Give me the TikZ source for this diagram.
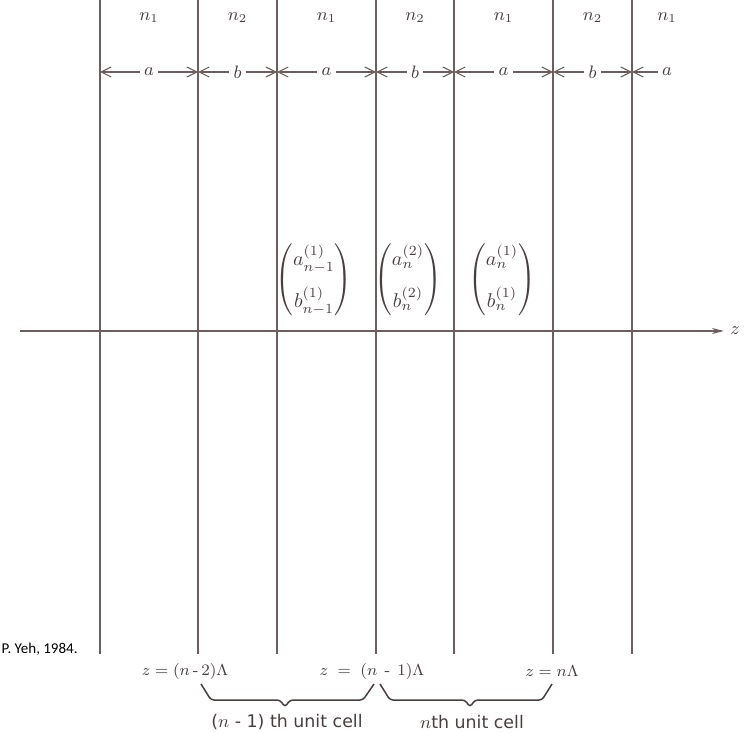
\documentclass[tikz,border=0pt]{standalone}
\usepackage{amsmath}
\usepackage{fontspec}
\newfontfamily\cellfont{DejaVu Sans}
\newfontfamily\notefont{Carlito}
\usetikzlibrary{arrows.meta,positioning,calc}
\definecolor{layerline}{RGB}{108,94,94}
\definecolor{inkgray}{RGB}{72,62,62}
\newcommand{\shortdash}{\text{-}}

\begin{document}
\begin{tikzpicture}[x=0.5pt,y=-0.5pt,font=\fontsize{9}{11}\selectfont,
  every node/.style={text=inkgray},
  bound/.style={layerline,line width=0.75pt},
  dim/.style={layerline,line width=0.55pt,-{Straight Barb[length=5pt,width=5pt]}},
  brace/.style={inkgray,line width=0.75pt,rounded corners=1.5pt},
  planelabel/.style={font=\fontsize{8}{10}\selectfont}]
  \useasboundingbox (0,0) rectangle (744,733);
  % layer boundaries
  \foreach \x [count=\i] in {100,198,277,376,454,553,632}{
    \coordinate (top\i) at (\x,0);
    \coordinate (bot\i) at (\x,654);
    \draw[bound] (top\i) -- (bot\i);
  }
  % indices and thicknesses
  \foreach \l/\r/\m/\t [count=\k] in {1/2/1/a,2/3/2/b,3/4/1/a,4/5/2/b,5/6/1/a,6/7/2/b}{
    \node (idx\k) at ($(top\l)!0.5!(top\r)+(0,18)$) {$n_{\m}$};
    \node[inner sep=2pt] (len\k) at ($(top\l)!0.5!(top\r)+(0,72)$) {$\t$};
    \draw[dim] (len\k.west) -- (top\l |- len\k);
    \draw[dim] (len\k.east) -- (top\r |- len\k);
  }
  \node (idx7) at ($(top7)+(35,18)$) {$n_{1}$};
  \node[inner sep=2pt] (len7) at ($(top7)+(35,72)$) {$a$};
  \draw[dim] (len7.west) -- (top7 |- len7);
  % z axis
  \coordinate (zstart) at (20,331);
  \node[inner sep=3pt] (zlab) at (735,331) {$z$};
  \draw[bound,-{Stealth[length=6pt,width=3pt]}] (zstart) -- (zlab.west);
  % field amplitudes
  \begin{scope}[every node/.style={text=inkgray,font=\fontsize{10}{12}\selectfont}]
    \node (ampA) at (314,280) {$\begin{pmatrix} a^{(1)}_{n-1}\\[7pt] b^{(1)}_{n-1}\end{pmatrix}$};
    \node (ampB) at (408,280) {$\begin{pmatrix} a^{(2)}_{n}\\[7pt] b^{(2)}_{n}\end{pmatrix}$};
    \node (ampC) at (502,280) {$\begin{pmatrix} a^{(1)}_{n}\\[7pt] b^{(1)}_{n}\end{pmatrix}$};
  \end{scope}
  % cell boundaries and braces
  \node[planelabel] (posA) at (185,671) {$z\;{=}\;(n\,\shortdash\,2)\Lambda$};
  \node[planelabel] (posB) at (372,671) {$z\;=\;(n\hspace{0.45em}\shortdash\hspace{0.45em}1)\Lambda$};
  \node[planelabel] (posC) at (552,671) {$z = n\Lambda$};
  \draw[brace] (201,684) -- (211,700) -- (280,700) -- (285,707) -- (290,700) -- (363,700) -- (374,684);
  \draw[brace] (380,684) -- (390,700) -- (465,700) -- (470,707) -- (475,700) -- (542,700) -- (552,684);
  \node[font=\cellfont\fontsize{8.7}{10}\selectfont] (cellA) at (287,722) {($n$ - 1) th unit cell};
  \node[font=\cellfont\fontsize{8.7}{10}\selectfont] (cellB) at (472,722) {$n$th unit cell};
  % credit line, cut at the left edge
  \node[anchor=east,inner sep=0pt,text=black,font=\notefont\fontsize{7.5}{9}\selectfont] (credit) at (78,649) {P. Yeh, 1984.};
\end{tikzpicture}
\end{document}
